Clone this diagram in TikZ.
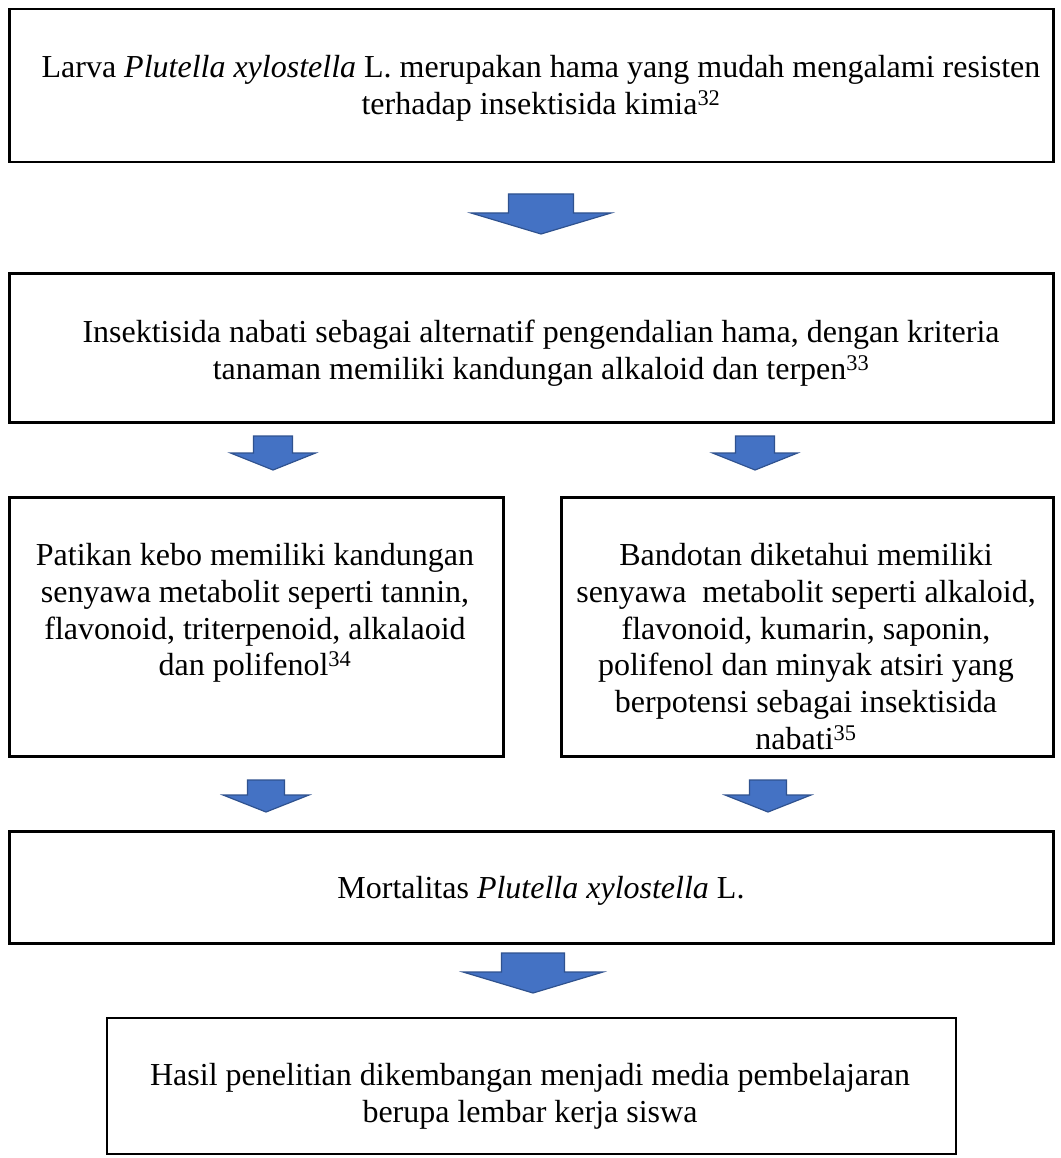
\documentclass[tikz,border=0pt]{standalone}
\usepackage{fontspec}
\setmainfont{Liberation Serif}
\definecolor{arrowfill}{HTML}{4472C4}
\definecolor{arrowline}{HTML}{2F528F}
\newcommand\blockarrow[6]{%
  \draw[barrow] ({#1-#5},#2) -- ({#1+#5},#2) -- ({#1+#5},#3) -- ({#1+#6},#3)
    -- (#1,#4) -- ({#1-#6},#3) -- ({#1-#5},#3) -- cycle;}
\begin{document}
\begin{tikzpicture}[x=1pt,y=-1pt,
  box/.style={draw=black, line width=2.5pt, anchor=north west, inner sep=0pt},
  txt/.style={anchor=north, align=center, inner sep=0pt, font=\fontsize{32}{36.8}\selectfont},
  barrow/.style={fill=arrowfill, draw=arrowline, line width=1.2pt, line join=miter}]
\useasboundingbox (0,0) rectangle (1060,1158);

% boxes
\node[box, minimum width=1044pt, minimum height=153pt] (b1) at (8,8) {};
\node[box, minimum width=1044pt, minimum height=149pt] (b2) at (8,272) {};
\node[box, minimum width=494pt, minimum height=259pt] (b3l) at (8,496) {};
\node[box, minimum width=492pt, minimum height=259pt] (b3r) at (560,496) {};
\node[box, minimum width=1044pt, minimum height=112pt] (b4) at (8,830) {};
\node[box, line width=2pt, minimum width=849pt, minimum height=136pt] (b5) at (106,1017) {};

% texts
\node[txt] (t1) at (541,55) {Larva \textit{Plutella xylostella} L. merupakan hama yang mudah mengalami resisten\\terhadap insektisida kimia\textsuperscript{32}};
\node[txt] (t2) at (541,320) {Insektisida nabati sebagai alternatif pengendalian hama, dengan kriteria\\tanaman memiliki kandungan alkaloid dan terpen\textsuperscript{33}};
\node[txt] (t3l) at (255,543) {Patikan kebo memiliki kandungan\\senyawa metabolit seperti tannin,\\flavonoid, triterpenoid, alkalaoid\\dan polifenol\textsuperscript{34}};
\node[txt] (t3r) at (806,543) {Bandotan diketahui memiliki\\senyawa\ \ metabolit seperti alkaloid,\\flavonoid, kumarin, saponin,\\polifenol dan minyak atsiri yang\\berpotensi sebagai insektisida\\nabati\textsuperscript{35}};
\node[txt] (t4) at (541,876) {Mortalitas \textit{Plutella xylostella} L.};
\node[txt] (t5) at (530,1063) {Hasil penelitian dikembangan menjadi media pembelajaran\\berupa lembar kerja siswa};

% block arrows
\blockarrow{541}{194}{213}{234}{32.5}{70}
\blockarrow{273}{436}{453}{470}{19.5}{42.5}
\blockarrow{755}{436}{453}{470}{19.5}{42.5}
\blockarrow{266}{780}{795}{812}{18.5}{43}
\blockarrow{768}{780}{795}{812}{18.5}{43}
\blockarrow{533}{953}{972}{993}{31.5}{70}
\end{tikzpicture}
\end{document}
